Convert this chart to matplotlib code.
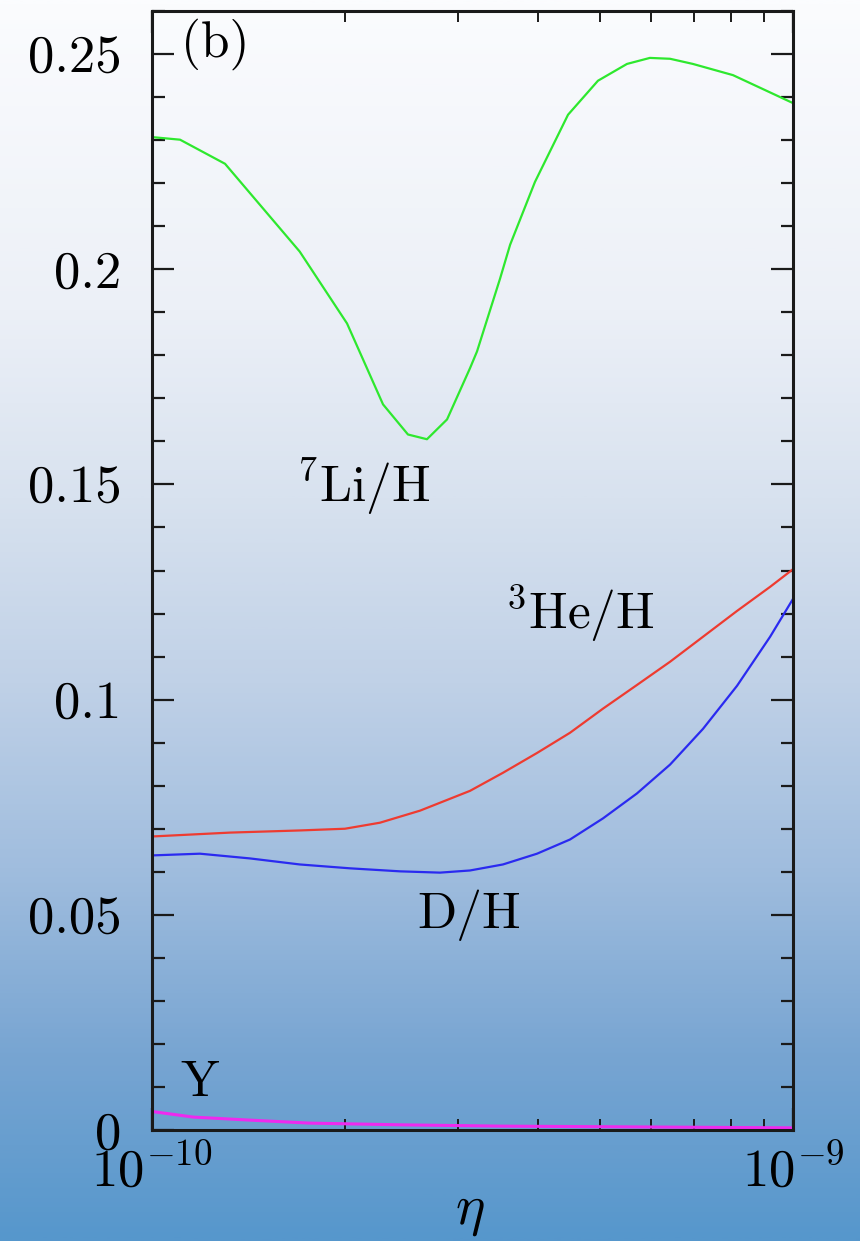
import numpy as np
import matplotlib
matplotlib.use("Agg")
import matplotlib.pyplot as plt
from matplotlib.ticker import MultipleLocator, LogLocator, NullFormatter
from matplotlib.colors import LinearSegmentedColormap

plt.rcParams['font.family'] = ['cmr10', 'DejaVu Serif']
plt.rcParams['mathtext.fontset'] = 'cm'
plt.rcParams['axes.formatter.use_mathtext'] = True

# ---- data ----
li_eta = [1.0e-10, 1.106e-10, 1.30e-10, 1.70e-10, 2.015e-10, 2.293e-10, 2.508e-10, 2.685e-10,
          2.886e-10, 3.134e-10, 3.214e-10, 3.491e-10, 3.62e-10, 3.958e-10, 4.457e-10, 4.963e-10,
          5.508e-10, 5.98e-10, 6.43e-10, 6.98e-10, 8.06e-10, 1.0e-9]
li_val = [0.2307, 0.2301, 0.2245, 0.2041, 0.1874, 0.1686, 0.1616, 0.1605,
          0.1651, 0.1770, 0.1809, 0.1978, 0.2057, 0.2203, 0.2359, 0.2438,
          0.2477, 0.2491, 0.2489, 0.2477, 0.2451, 0.2386]

he_eta = [1.0e-10, 1.323e-10, 1.70e-10, 2.0e-10, 2.268e-10, 2.619e-10, 3.134e-10, 3.528e-10,
          3.987e-10, 4.489e-10, 5.053e-10, 5.709e-10, 6.43e-10, 7.237e-10, 8.178e-10,
          9.21e-10, 1.0e-9]
he_val = [0.0682, 0.0691, 0.0696, 0.0700, 0.0714, 0.0742, 0.0788, 0.0830,
          0.0876, 0.0923, 0.0979, 0.1034, 0.1088, 0.1146, 0.1206, 0.1262, 0.1303]

d_eta = [1.0e-10, 1.188e-10, 1.422e-10, 1.70e-10, 2.037e-10, 2.437e-10, 2.814e-10, 3.134e-10,
         3.528e-10, 3.987e-10, 4.489e-10, 5.053e-10, 5.709e-10, 6.43e-10, 7.237e-10,
         8.178e-10, 9.21e-10, 1.0e-9]
d_val = [0.0638, 0.0642, 0.0631, 0.0617, 0.0608, 0.0601, 0.0598, 0.0603,
         0.0617, 0.0642, 0.0675, 0.0724, 0.0782, 0.0849, 0.0932,
         0.1032, 0.1146, 0.1234]

y_eta = [1.0e-10, 1.16e-10, 1.42e-10, 1.76e-10, 2.45e-10, 3.5e-10, 6.0e-10, 1.0e-9]
y_val = [0.0043, 0.0030, 0.0023, 0.0016, 0.0012, 0.0009, 0.0007, 0.0005]

ytick_labels = ['0', '0.05', '0.1', '0.15', '0.2', '0.25']
ytick_vals = [0, 0.05, 0.1, 0.15, 0.2, 0.25]

# ---- figure ----
fig = plt.figure(figsize=(8.6, 12.41), dpi=100)

# background gradient
bg = fig.add_axes([0, 0, 1, 1], zorder=-10)
stops = [(0.0, (251/255, 252/255, 254/255)),
         (0.25, (236/255, 240/255, 247/255)),
         (0.40, (216/255, 226/255, 239/255)),
         (0.55, (192/255, 209/255, 231/255)),
         (0.70, (160/255, 189/255, 222/255)),
         (0.85, (120/255, 165/255, 210/255)),
         (1.0, (86/255, 151/255, 204/255))]
cmap = LinearSegmentedColormap.from_list('bg', stops)
grad = np.linspace(0, 1, 512).reshape(-1, 1)
bg.imshow(grad, aspect='auto', cmap=cmap, extent=[0, 1, 0, 1], origin='upper')
bg.set_axis_off()

ax = fig.add_axes([152/860, 1 - 1130/1241, (793-152)/860, (1130-11)/1241])
ax.patch.set_alpha(0)

lw = 1.6
ax.plot(li_eta, li_val, color='#2ee82e', lw=lw)
ax.plot(he_eta, he_val, color='#ee3b30', lw=lw)
ax.plot(d_eta, d_val, color='#2a2af0', lw=lw)
ax.plot(y_eta, y_val, color='#ee2aee', lw=2.2)

ax.set_xscale('log')
ax.set_xlim(1e-10, 1e-9)
ax.set_ylim(0, 0.26)

ax.set_yticks(ytick_vals)
ax.set_yticklabels(ytick_labels)
ax.yaxis.set_minor_locator(MultipleLocator(0.01))
ax.xaxis.set_major_locator(LogLocator(base=10))
ax.xaxis.set_minor_locator(LogLocator(base=10, subs=np.arange(2, 10)))
ax.xaxis.set_minor_formatter(NullFormatter())

for s in ax.spines.values():
    s.set_linewidth(2.2)
    s.set_color('#1a1a1a')

ax.tick_params(axis='both', which='both', direction='in', top=True, right=True,
               color='#1a1a1a')
ax.tick_params(axis='y', which='major', length=16, width=1.6, pad=22, labelsize=38)
ax.tick_params(axis='y', which='minor', length=9, width=1.6)
ax.tick_params(axis='x', which='major', length=16, width=1.6, pad=10, labelsize=38)
ax.tick_params(axis='x', which='minor', length=8, width=1.4)

fs = 37
ax.text(0.329, 0.1496, r'$^{\mathbf{7}}$Li/H', transform=ax.get_yaxis_transform(),
        ha='center', va='center', fontsize=fs)
ax.text(0.668, 0.120, r'$^{\mathbf{3}}$He/H', transform=ax.get_yaxis_transform(),
        ha='center', va='center', fontsize=fs)
ax.text(0.495, 0.0499, 'D/H', transform=ax.get_yaxis_transform(),
        ha='center', va='center', fontsize=fs)
ax.text(0.075, 0.0109, 'Y', transform=ax.get_yaxis_transform(),
        ha='center', va='center', fontsize=fs)
ax.text(0.098, 0.2523, '(b)', transform=ax.get_yaxis_transform(),
        ha='center', va='center', fontsize=fs)

fig.text(470/860, 1 - 1213/1241, r'$\eta$', ha='center', va='center', fontsize=40)

fig.savefig('out.png', dpi=100)
